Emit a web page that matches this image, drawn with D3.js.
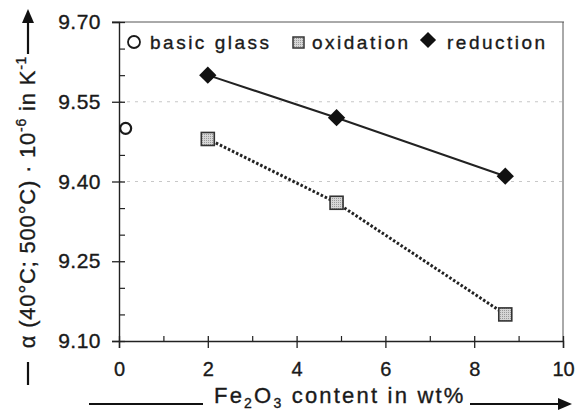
<!DOCTYPE html>
<html>
<head>
<meta charset="utf-8">
<style>
  body { margin: 0; background: #fff; }
  text { font-family: "Liberation Sans", Arial, sans-serif; fill: #1a1a1a; stroke: #1a1a1a; stroke-width: 0.35px; }
</style>
</head>
<body>
<script src="https://cdn.jsdelivr.net/npm/d3@7"></script>
<script>
// data
var basicX = [0.15];
var basicY = [9.50];
var oxX = [2.0, 4.9, 8.7];
var oxY = [9.48, 9.36, 9.15];
var redX = [2.0, 4.9, 8.7];
var redY = [9.60, 9.52, 9.41];
var yMajor = [9.10, 9.25, 9.40, 9.55, 9.70];
var yMinor = [9.15, 9.20, 9.30, 9.35, 9.45, 9.50, 9.60, 9.65];
var yGrid = [9.40, 9.55];
var xMajor = [0, 2, 4, 6, 8, 10];
var xMinor = [1, 3, 5, 7, 9];
var legendNames = ["basic glass", "oxidation", "reduction"];

var W = 578, H = 416;
var svg = d3.select("body").append("svg").attr("width", W).attr("height", H);

var x = d3.scaleLinear().domain([0, 10]).range([119, 563]);
var y = d3.scaleLinear().domain([9.10, 9.70]).range([341, 22]);

// dashed grid
svg.selectAll(".grid").data(yGrid).enter().append("line")
    .attr("x1", x(0)).attr("x2", x(10))
    .attr("y1", d => y(d)).attr("y2", d => y(d))
    .attr("stroke", "#c8c8c8").attr("stroke-width", 1.2)
    .attr("stroke-dasharray", "3,5");

// frame top and right
svg.append("line").attr("x1", x(0) - 7).attr("x2", x(10) + 1).attr("y1", y(9.70)).attr("y2", y(9.70))
    .attr("stroke", "#555").attr("stroke-width", 1);
svg.append("line").attr("x1", x(10)).attr("x2", x(10)).attr("y1", y(9.70)).attr("y2", y(9.10))
    .attr("stroke", "#555").attr("stroke-width", 1);

// y axis
var yAxis = svg.append("g").attr("transform", "translate(" + x(0) + ",0)")
    .call(d3.axisLeft(y).tickValues(yMajor).tickFormat(d3.format(".2f")).tickSize(7).tickPadding(11));
yAxis.select(".domain").attr("stroke", "#222").attr("stroke-width", 1.4);
yAxis.selectAll(".tick line").attr("x1", 6).attr("x2", -7).attr("stroke", "#222").attr("stroke-width", 1.3);
yAxis.selectAll(".tick text").attr("font-size", 21).attr("letter-spacing", 0.5)
    .style("font-family", "Liberation Sans, Arial, sans-serif").attr("fill", "#1a1a1a");
var yAxisMinor = svg.append("g").attr("transform", "translate(" + x(0) + ",0)")
    .call(d3.axisRight(y).tickValues(yMinor).tickFormat("").tickSize(6));
yAxisMinor.select(".domain").remove();
yAxisMinor.selectAll(".tick line").attr("stroke", "#222").attr("stroke-width", 1.2);

// x axis
var xAxis = svg.append("g").attr("transform", "translate(0," + y(9.10) + ")")
    .call(d3.axisBottom(x).tickValues(xMajor).tickFormat(d3.format("d")).tickSize(7).tickPadding(14));
xAxis.select(".domain").attr("stroke", "#222").attr("stroke-width", 1.4);
xAxis.selectAll(".tick line").attr("y1", -5).attr("y2", 7).attr("stroke", "#222").attr("stroke-width", 1.3);
xAxis.selectAll(".tick text").attr("font-size", 20)
    .style("font-family", "Liberation Sans, Arial, sans-serif").attr("fill", "#1a1a1a");
var xAxisMinor = svg.append("g").attr("transform", "translate(0," + y(9.10) + ")")
    .call(d3.axisTop(x).tickValues(xMinor).tickFormat("").tickSize(5));
xAxisMinor.select(".domain").remove();
xAxisMinor.selectAll(".tick line").attr("stroke", "#222").attr("stroke-width", 1.2);

// stipple pattern for squares
var pat = svg.append("defs").append("pattern").attr("id", "stip")
    .attr("width", 2).attr("height", 2).attr("patternUnits", "userSpaceOnUse");
pat.append("rect").attr("width", 2).attr("height", 2).attr("fill", "#d6d6d6");
pat.append("rect").attr("width", 1).attr("height", 1).attr("fill", "#9a9a9a");

// lines
var line = d3.line().x(d => x(d[0])).y(d => y(d[1]));
svg.append("path").datum(d3.zip(oxX, oxY)).attr("d", line)
    .attr("fill", "none").attr("stroke", "#222").attr("stroke-width", 3).attr("stroke-dasharray", "2.5,2");
svg.append("path").datum(d3.zip(redX, redY)).attr("d", line)
    .attr("fill", "none").attr("stroke", "#222").attr("stroke-width", 2);

// markers
svg.selectAll(".basic").data(d3.zip(basicX, basicY)).enter().append("circle")
    .attr("cx", d => x(d[0])).attr("cy", d => y(d[1])).attr("r", 5.5)
    .attr("fill", "#fff").attr("stroke", "#1a1a1a").attr("stroke-width", 2.2);
var sq = 13;
svg.selectAll(".ox").data(d3.zip(oxX, oxY)).enter().append("rect")
    .attr("x", d => x(d[0]) - sq / 2).attr("y", d => y(d[1]) - sq / 2)
    .attr("width", sq).attr("height", sq)
    .attr("fill", "url(#stip)").attr("stroke", "#333").attr("stroke-width", 1.6);
var diamond = d3.symbol().type(d3.symbolSquare).size(150);
svg.selectAll(".red").data(d3.zip(redX, redY)).enter().append("path")
    .attr("d", diamond)
    .attr("transform", d => "translate(" + x(d[0]) + "," + y(d[1]) + ") rotate(45)")
    .attr("fill", "#111");

// legend
var lg = svg.append("g");
lg.append("circle").attr("cx", 134).attr("cy", 42).attr("r", 6)
    .attr("fill", "#fff").attr("stroke", "#1a1a1a").attr("stroke-width", 1.8);
lg.append("rect").attr("x", 293).attr("y", 37).attr("width", 11).attr("height", 11)
    .attr("fill", "url(#stip)").attr("stroke", "#333").attr("stroke-width", 1.5);
lg.append("path").attr("d", d3.symbol().type(d3.symbolSquare).size(130))
    .attr("transform", "translate(428,40) rotate(45)").attr("fill", "#111");
var legX = [150, 312, 447];
lg.selectAll(".lt").data(legendNames).enter().append("text")
    .attr("x", (d, i) => legX[i]).attr("y", 49)
    .attr("font-size", 19).attr("letter-spacing", 2.5)
    .text(d => d);

// x title with arrow
svg.append("text").attr("x", 214).attr("y", 403).attr("font-size", 22).attr("letter-spacing", 2.2)
    .html('Fe<tspan font-size="14" dy="5">2</tspan><tspan dy="-5">O</tspan><tspan font-size="14" dy="5">3</tspan><tspan dy="-5"> content in wt%</tspan>');
svg.append("line").attr("x1", 89).attr("x2", 203).attr("y1", 404).attr("y2", 404)
    .attr("stroke", "#111").attr("stroke-width", 2.2);
svg.append("line").attr("x1", 470).attr("x2", 560).attr("y1", 404).attr("y2", 404)
    .attr("stroke", "#111").attr("stroke-width", 2.2);
svg.append("path").attr("d", "M558,398 L572,404 L558,410 Z").attr("fill", "#111");

// y title with arrow
svg.append("text").attr("transform", "translate(35,202) rotate(-90)")
    .attr("text-anchor", "middle").attr("font-size", 22).attr("letter-spacing", 0.8)
    .html('α (40°C; 500°C) · 10<tspan font-size="14" dy="-9">-6</tspan><tspan dy="9"> in K</tspan><tspan font-size="14" dy="-9">-1</tspan>');
svg.append("line").attr("x1", 28).attr("x2", 28).attr("y1", 362).attr("y2", 385)
    .attr("stroke", "#111").attr("stroke-width", 2.2);
svg.append("line").attr("x1", 28).attr("x2", 28).attr("y1", 54).attr("y2", 20)
    .attr("stroke", "#111").attr("stroke-width", 2.2);
svg.append("path").attr("d", "M22,23 L28,9 L34,23 Z").attr("fill", "#111");
</script>
</body>
</html>
